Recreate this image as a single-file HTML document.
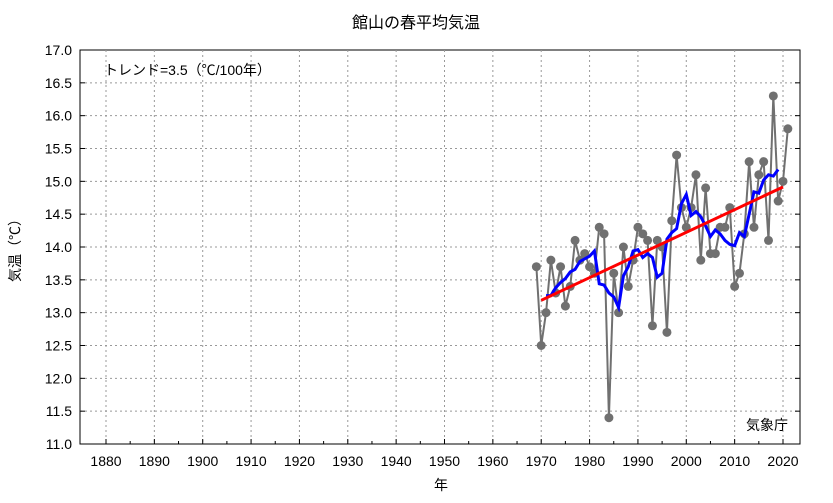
<!DOCTYPE html>
<html><head><meta charset="utf-8"><style>
body{margin:0;background:#fff;}
svg text{font-family:"Liberation Sans","Noto Sans CJK JP",sans-serif;}
</style></head><body>
<svg id="c" width="833" height="498" xmlns="http://www.w3.org/2000/svg"></svg>
<script>
const years=[1969,1970,1971,1972,1973,1974,1975,1976,1977,1978,1979,1980,1981,1982,1983,1984,1985,1986,1987,1988,1989,1990,1991,1992,1993,1994,1995,1996,1997,1998,1999,2000,2001,2002,2003,2004,2005,2006,2007,2008,2009,2010,2011,2012,2013,2014,2015,2016,2017,2018,2019,2020,2021];
const temps=[13.7,12.5,13.0,13.8,13.3,13.7,13.1,13.4,14.1,13.8,13.9,13.7,13.6,14.3,14.2,11.4,13.6,13.0,14.0,13.4,13.8,14.3,14.2,14.1,12.8,14.1,14.0,12.7,14.4,15.4,14.6,14.3,14.6,15.1,13.8,14.9,13.9,13.9,14.3,14.3,14.6,13.4,13.6,14.2,15.3,14.3,15.1,15.3,14.1,16.3,14.7,15.0,15.8];
const xTicks=[1880,1890,1900,1910,1920,1930,1940,1950,1960,1970,1980,1990,2000,2010,2020];
const yTicks=[11.0,11.5,12.0,12.5,13.0,13.5,14.0,14.5,15.0,15.5,16.0,16.5,17.0];
const NS="http://www.w3.org/2000/svg",svg=document.getElementById('c');
const L=80,R=800,T=50,B=444;
const X=y=>106+(y-1880)*(677/140);
const Y=v=>B-(v-11)*(B-T)/6;
function el(t,a,p){const e=document.createElementNS(NS,t);for(const k in a)e.setAttribute(k,a[k]);(p||svg).appendChild(e);return e;}
let e;
e=el('rect',{x:L,y:T,width:R-L,height:B-T,fill:'none',stroke:'#000','stroke-width':1});

yTicks.forEach(v=>{const y=Y(v);
 if(v>11&&v<17){e=el('line',{x1:L,x2:R,y1:y,y2:y,stroke:'#999','stroke-dasharray':'2,3'});}
 e=el('line',{x1:L,x2:L+5,y1:y,y2:y,stroke:'#000'});
 e=el('line',{x1:R-5,x2:R,y1:y,y2:y,stroke:'#000'});
 e=el('text',{x:L-8,y:y+5,'text-anchor':'end','font-size':14});e.textContent=v.toFixed(1);});
xTicks.forEach(t=>{const x=X(t);
 e=el('line',{x1:x,x2:x,y1:T,y2:B,stroke:'#999','stroke-dasharray':'2,3'});
 e=el('line',{x1:x,x2:x,y1:B-5,y2:B,stroke:'#000'});
 e=el('text',{x:x,y:B+22,'text-anchor':'middle','font-size':14});e.textContent=t;});
for(let t=1880;t<=2020;t+=5){if(t%10){e=el('line',{x1:X(t),x2:X(t),y1:B-3,y2:B,stroke:'#000'});}}
// series
e=el('polyline',{points:years.map((y,i)=>X(y)+','+Y(temps[i])).join(' '),fill:'none',stroke:'#707070','stroke-width':2});

years.forEach((y,i)=>{e=el('circle',{cx:X(y),cy:Y(temps[i]),r:4.5,fill:'#707070'});});
const ma=[];for(let i=2;i<years.length-2;i++){let s=0;for(let j=-2;j<=2;j++)s+=temps[i+j];ma.push(X(years[i])+','+Y(s/5));}
e=el('polyline',{points:ma.join(' '),fill:'none',stroke:'#0000ff','stroke-width':3});

const n=years.length,mx=years.reduce((a,b)=>a+b)/n,my=temps.reduce((a,b)=>a+b)/n;
let sxy=0,sxx=0;years.forEach((y,i)=>{sxy+=(y-mx)*(temps[i]-my);sxx+=(y-mx)*(y-mx);});const k=sxy/sxx;
e=el('line',{x1:X(1970),y1:Y(my+k*(1970-mx)),x2:X(2020),y2:Y(my+k*(2020-mx)),stroke:'#ff0000','stroke-width':3});

e=el('text',{x:416,y:28,'text-anchor':'middle','font-size':16});e.textContent='館山の春平均気温';
e=el('text',{x:104,y:75,'font-size':14});e.textContent='トレンド=3.5（℃/100年）';
e=el('text',{x:788,y:430,'text-anchor':'end','font-size':14});e.textContent='気象庁';
e=el('text',{x:441,y:490,'text-anchor':'middle','font-size':14});e.textContent='年';
e=el('text',{x:20,y:247,'text-anchor':'middle','font-size':14,transform:'rotate(-90 20 247)'});e.textContent='気温（℃）';
</script>
</body></html>
